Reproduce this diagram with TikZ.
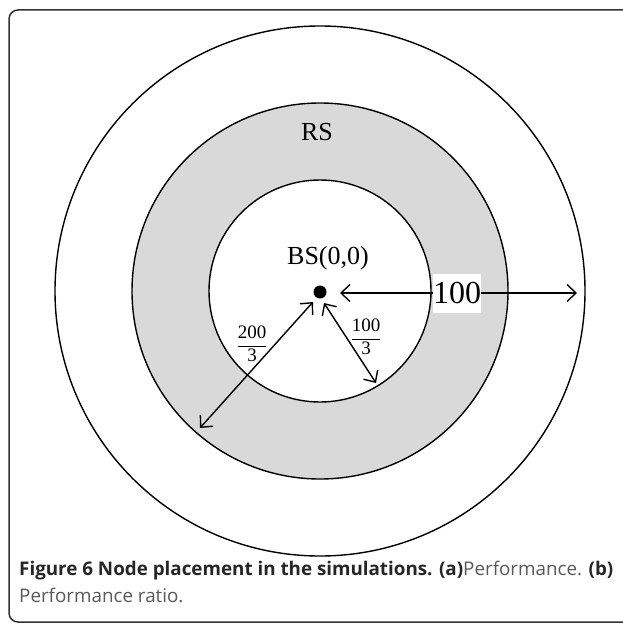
\documentclass[tikz,border=0pt]{standalone}
\usepackage{fontspec}
\setmainfont{Liberation Serif}
\newfontfamily\capfont{Open Sans}
\usetikzlibrary{arrows.meta}
\begin{document}
\begin{tikzpicture}[x=1pt,y=-1pt,
  ring/.style={draw=black, line width=1.4pt},
  dimline/.style={draw=black, line width=1.4pt,
    {Straight Barb[length=9pt,width=17pt]}-{Straight Barb[length=9pt,width=17pt]}},
  lbl/.style={font=\fontsize{26}{28}\selectfont, inner sep=0pt},
  frac/.style={font=\fontsize{19}{21}\selectfont, inner sep=0pt},
  captext/.style={anchor=base west, inner sep=0pt, font=\capfont\fontsize{18.8}{20}\selectfont},
]
\useasboundingbox (0,0) rectangle (622,628);
% frame
\draw[line width=1.5pt, draw=black!80, rounded corners=9pt]
  (650,10) -- (9,10) -- (9,622) -- (650,622);
% circles
\coordinate (c) at (320,291);
\draw[ring, fill=white] (c) circle[radius=265];
\draw[ring, fill=black!15] (c) circle[radius=188];
\draw[ring, fill=white] (c) circle[radius=111];
% base station
\node[circle, fill=black, inner sep=0pt, minimum size=13pt] (dot) at (320,292) {};
\node[lbl] (bs) at (328,258) {BS(0,0)};
\node[lbl] (rs) at (317,132) {RS};
% horizontal dimension
\coordinate (h1) at (340,293);
\coordinate (h2) at (577,293);
\draw[dimline] (h1) -- (h2);
\node[fill=white, inner sep=0pt, minimum width=45pt, minimum height=39pt,
  font=\fontsize{32}{32}\selectfont] (hundred) at (457,293) {100};
% diagonal dimensions
\coordinate (a1) at (313,302);
\coordinate (a2) at (200,428);
\draw[dimline] (a1) -- (a2);
\coordinate (b1) at (324,303);
\coordinate (b2) at (376,383);
\draw[dimline] (b1) -- (b2);
\node[frac] (f200) at (252,344) {$\displaystyle\frac{\mbox{200}}{\mbox{3}}$};
\node[frac] (f100) at (366,337) {$\displaystyle\frac{\mbox{100}}{\mbox{3}}$};
% caption
\node[captext] (cap1) at (19,575)
  {\textcolor{black!85}{\bfseries Figure 6 Node placement in the simulations. (a)}\textcolor{black!65}{Performance.} \textcolor{black!85}{\bfseries (b)}};
\node[captext] (cap2) at (19,602)
  {\textcolor{black!65}{Performance ratio.}};
\end{tikzpicture}
\end{document}
